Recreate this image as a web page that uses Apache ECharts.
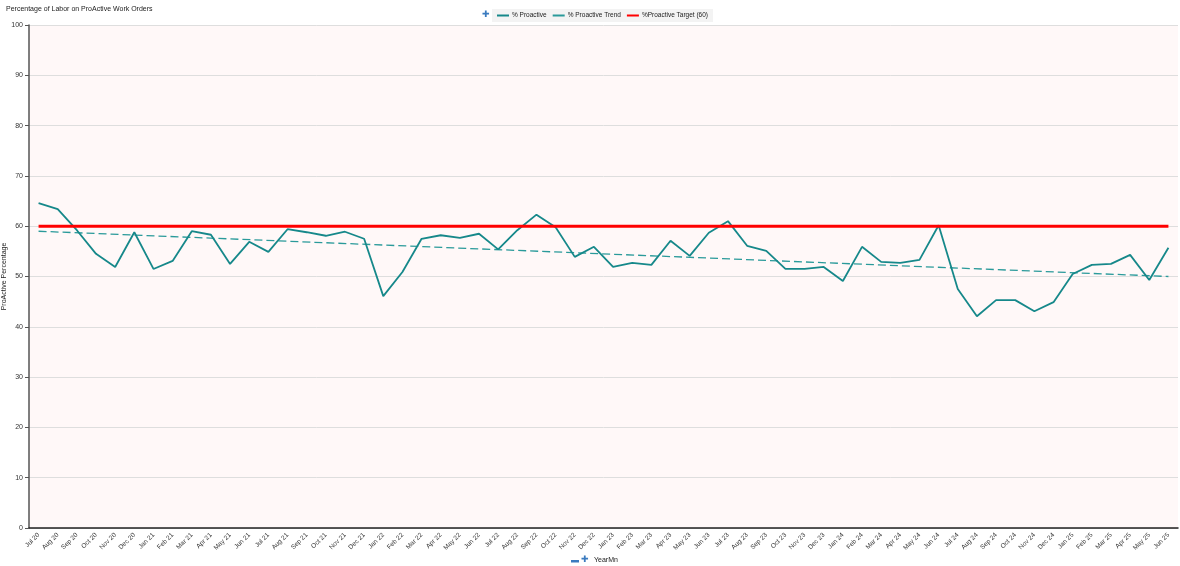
<!DOCTYPE html>
<html lang="en">
<head>
  <meta charset="utf-8"/>
  <title>ProActive Work Orders</title>
  <script src="https://cdn.jsdelivr.net/npm/echarts@6/dist/echarts.min.js"></script>
  <style>
    html, body { margin: 0; padding: 0; background: #fff; }
    #chart { width: 1180px; height: 566px; }
  </style>
</head>
<body>
<div id="chart"></div>
<script>
  // months on the x axis
  var months = ['Jul 20', 'Aug 20', 'Sep 20', 'Oct 20', 'Nov 20', 'Dec 20',
    'Jan 21', 'Feb 21', 'Mar 21', 'Apr 21', 'May 21', 'Jun 21',
    'Jul 21', 'Aug 21', 'Sep 21', 'Oct 21', 'Nov 21', 'Dec 21',
    'Jan 22', 'Feb 22', 'Mar 22', 'Apr 22', 'May 22', 'Jun 22',
    'Jul 22', 'Aug 22', 'Sep 22', 'Oct 22', 'Nov 22', 'Dec 22',
    'Jan 23', 'Feb 23', 'Mar 23', 'Apr 23', 'May 23', 'Jun 23',
    'Jul 23', 'Aug 23', 'Sep 23', 'Oct 23', 'Nov 23', 'Dec 23',
    'Jan 24', 'Feb 24', 'Mar 24', 'Apr 24', 'May 24', 'Jun 24',
    'Jul 24', 'Aug 24', 'Sep 24', 'Oct 24', 'Nov 24', 'Dec 24',
    'Jan 25', 'Feb 25', 'Mar 25', 'Apr 25', 'May 25', 'Jun 25'];

  // % proactive per month
  var proactive = [64.6, 63.4, 59.2, 54.5, 51.9, 58.8,
    51.5, 53.1, 59.0, 58.3, 52.5, 56.9,
    54.9, 59.4, 58.8, 58.1, 58.9, 57.5,
    46.1, 50.9, 57.5, 58.2, 57.7, 58.5,
    55.4, 59.2, 62.3, 59.8, 53.9, 55.9,
    51.9, 52.7, 52.3, 57.1, 54.1, 58.7,
    61.0, 56.1, 55.1, 51.5, 51.5, 51.9,
    49.1, 55.9, 52.9, 52.7, 53.3, 60.2,
    47.5, 42.1, 45.3, 45.3, 43.1, 44.9,
    50.5, 52.3, 52.5, 54.3, 49.3, 55.7];

  // trend line end points, target level
  var trendStart = 59.0, trendEnd = 50.0;
  var target = 60;

  var yTicks = { min: 0, max: 100, interval: 10 };

  // straight lines: only first and last point set, gaps joined
  function endPoints(a, b) {
    var arr = months.map(function () { return null; });
    arr[0] = a;
    arr[arr.length - 1] = b;
    return arr;
  }

  var font = 'Liberation Sans, Arial, sans-serif';
  var teal = '#16888a';

  var myChart = echarts.init(document.getElementById('chart'));
  var option = {
    animation: false,
    textStyle: { fontFamily: font },
    title: {
      text: 'Percentage of Labor on ProActive Work Orders',
      left: 1, top: 1,
      textStyle: { fontSize: 7, fontWeight: 'normal', color: '#222', fontFamily: font }
    },
    legend: {
      top: 9, left: 492,
      itemWidth: 12, itemHeight: 2, itemGap: 6,
      padding: [3, 5, 3, 5],
      backgroundColor: '#f3f3f3',
      textStyle: { fontSize: 6.5, color: '#222', fontFamily: font, padding: [0, 0, 0, -2] },
      data: [
        { name: '% Proactive', icon: 'rect' },
        { name: '% Proactive Trend', icon: 'rect', itemStyle: { color: '#2a9a9a' } },
        { name: '%Proactive Target (60)', icon: 'rect' }
      ]
    },
    graphic: [
      { type: 'text', left: 482, top: 10,
        style: { text: '✚', fontSize: 9, fill: '#3b7bbf', fontFamily: 'DejaVu Sans' } },
      { type: 'rect', left: 571, top: 560, shape: { width: 8, height: 2.5 },
        style: { fill: '#3b7bbf' } },
      { type: 'text', left: 581, top: 555,
        style: { text: '✚', fontSize: 9, fill: '#3b7bbf', fontFamily: 'DejaVu Sans' } },
      { type: 'text', left: 594, top: 557,
        style: { text: 'YearMn', fontSize: 7, fill: '#222', fontFamily: font } }
    ],
    grid: { left: 29, right: 2, top: 25, bottom: 38, containLabel: false,
      outerBoundsMode: 'none',
      show: true, backgroundColor: '#fff8f8', borderWidth: 0 },
    xAxis: {
      type: 'category',
      data: months,
      boundaryGap: true,
      axisLine: { lineStyle: { color: '#222', width: 1.5 } },
      axisTick: { alignWithLabel: false, length: 4, lineStyle: { color: '#222' } },
      axisLabel: { rotate: 45, interval: 0, fontSize: 6.5, color: '#333', margin: 6, fontFamily: font }
    },
    yAxis: {
      type: 'value',
      min: yTicks.min, max: yTicks.max, interval: yTicks.interval,
      name: 'ProActive Percentage',
      nameLocation: 'middle',
      nameGap: 21,
      nameMoveOverlap: false,
      nameTextStyle: { fontSize: 7, color: '#222', fontFamily: font },
      axisLine: { show: true, lineStyle: { color: '#555', width: 1.5 } },
      axisTick: { show: true, length: 4, lineStyle: { color: '#555' } },
      axisLabel: { fontSize: 7, color: '#333', margin: 6, fontFamily: font },
      splitLine: { lineStyle: { color: '#dedede', width: 1 } }
    },
    series: [
      {
        name: '% Proactive',
        type: 'line',
        data: proactive,
        symbol: 'none',
        itemStyle: { color: teal },
        lineStyle: { color: teal, width: 1.8 },
        z: 3
      },
      {
        name: '% Proactive Trend',
        type: 'line',
        data: endPoints(trendStart, trendEnd),
        connectNulls: true,
        symbol: 'none',
        itemStyle: { color: '#2a9a9a' },
        lineStyle: { color: '#2a9a9a', width: 1.3, type: [8, 4] },
        z: 2
      },
      {
        name: '%Proactive Target (60)',
        type: 'line',
        data: endPoints(target, target),
        connectNulls: true,
        symbol: 'none',
        itemStyle: { color: '#ff0000' },
        lineStyle: { color: '#ff0000', width: 3 },
        z: 4
      }
    ]
  };
  myChart.setOption(option);
</script>
</body>
</html>
